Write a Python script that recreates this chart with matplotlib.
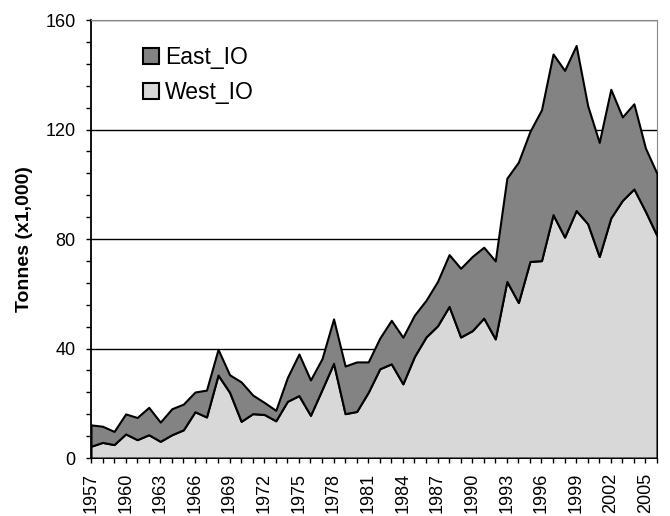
import matplotlib.pyplot as plt
import numpy as np

plt.rcParams['font.family'] = ['Liberation Sans', 'DejaVu Sans']

years = list(range(1957, 2007))

west_io = [4.3, 5.7, 4.9, 8.8, 6.7, 8.5, 6.1, 8.5, 10.3, 16.9,
           15.0, 30.3, 24.0, 13.4, 16.2, 15.9, 13.6, 20.7, 22.8, 15.6,
           25.0, 34.6, 16.2, 17.0, 24.0, 32.6, 34.4, 27.1, 37.1, 44.2,
           48.3, 55.4, 44.2, 46.5, 51.1, 43.5, 64.5, 56.8, 71.8, 72.1,
           88.9, 80.7, 90.4, 85.6, 73.6, 87.7, 94.1, 98.3, 90.1, 81.2]

total = [12.1, 11.6, 9.7, 16.1, 14.8, 18.5, 13.1, 18.0, 19.7, 24.1,
         24.8, 39.7, 30.4, 27.8, 23.0, 20.3, 17.4, 29.4, 38.0, 28.5,
         36.3, 50.8, 33.6, 35.1, 35.1, 43.8, 50.3, 44.1, 52.2, 57.6,
         64.5, 74.3, 69.3, 73.6, 77.0, 72.0, 102.2, 108.1, 119.3, 127.2,
         147.6, 141.6, 150.7, 128.7, 115.3, 134.7, 124.6, 129.4, 113.2, 103.9]

east_io = [t - w for t, w in zip(total, west_io)]

fig = plt.figure(figsize=(6.7, 5.16), dpi=100)
ax = fig.add_axes([0.1358, 0.1124, 0.8448, 0.8488])

x = np.array(years)
w = np.array(west_io)
e = np.array(east_io)

ax.fill_between(x, 0, w, facecolor='#d8d8d8', edgecolor='black',
                linewidth=1.5, zorder=3, label='West_IO')
ax.fill_between(x, w, w + e, facecolor='#838383', edgecolor='black',
                linewidth=1.5, zorder=3, label='East_IO')

ax.set_xlim(1957, 2006)
ax.set_ylim(0, 160)

ax.set_yticks([0, 40, 80, 120, 160])
ax.set_yticks(np.arange(0, 161, 8), minor=True)
ax.yaxis.grid(True, color='black', linewidth=1)
ax.set_axisbelow(True)

ax.set_xticks(years, minor=True)
ax.set_xticks(years[::3])
ax.set_xticklabels([str(y) for y in years[::3]], rotation=90)

ax.tick_params(axis='both', which='both', direction='out', labelsize=13,
               width=1, color='black', length=3.6)
ax.tick_params(axis='y', which='major', pad=7.5)
ax.tick_params(axis='x', which='major', pad=7)

ax.spines['top'].set_color('#888888')
ax.spines['right'].set_color('#888888')
ax.spines['left'].set_linewidth(1.3)
ax.spines['bottom'].set_linewidth(1.3)

ax.set_ylabel('Tonnes (x1,000)', fontsize=14, fontweight='bold', labelpad=9)

handles, labels = ax.get_legend_handles_labels()
ax.legend(handles[::-1], labels[::-1], loc='upper left',
          bbox_to_anchor=(0.092, 0.94), frameon=False, fontsize=16.5,
          handlelength=0.7, handleheight=0.7, handletextpad=0.26,
          labelspacing=0.5, borderpad=0, borderaxespad=0)

fig.savefig('out.png', dpi=100)
